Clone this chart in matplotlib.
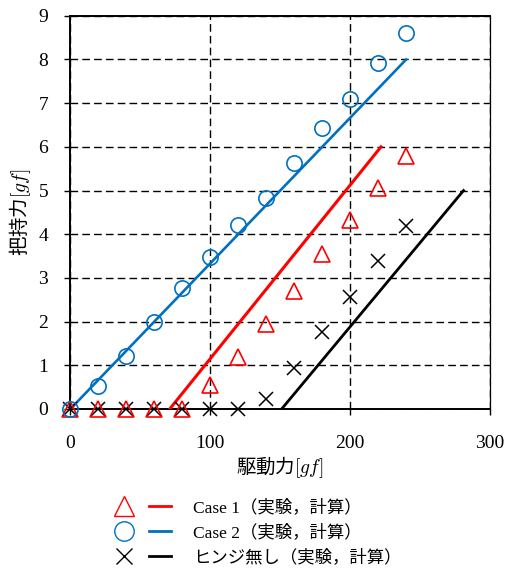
import numpy as np
import matplotlib
matplotlib.use('Agg')
import matplotlib.pyplot as plt
from matplotlib.lines import Line2D
from matplotlib.legend_handler import HandlerTuple

plt.rcParams['font.family'] = ['Liberation Serif', 'Noto Sans CJK JP', 'DejaVu Sans']
plt.rcParams['mathtext.fontset'] = 'cm'

# driving force [gf] for the experiments
x_exp = [0, 20, 40, 60, 80, 100, 120, 140, 160, 180, 200, 220, 240]
# grip force [gf], experiments
case1_exp = [0, 0, 0, 0, 0, 0.55, 1.2, 1.95, 2.71, 3.55, 4.32, 5.05, 5.8]
case2_exp = [0, 0.53, 1.21, 1.99, 2.77, 3.47, 4.2, 4.83, 5.63, 6.43, 7.1, 7.92, 8.61]
nohinge_exp = [0, 0, 0, 0, 0, 0, 0, 0.23, 0.93, 1.77, 2.57, 3.39, 4.19]
# calculated lines (end points)
case1_calc_x = [71, 222]
case1_calc_y = [0, 6]
case2_calc_x = [0, 240]
case2_calc_y = [0, 8]
nohinge_calc_x = [151, 281]
nohinge_calc_y = [0, 5]

labels = ['Case 1（実験，計算）', 'Case 2（実験，計算）', 'ヒンジ無し（実験，計算）']
red = '#ff0000'
blue = '#0070c0'
black = '#000000'

fig = plt.figure(figsize=(5.1, 5.74), dpi=100)
ax = fig.add_axes([0.138, 0.2875, 0.823, 0.685])

ax.plot(case2_calc_x, case2_calc_y, color=blue, lw=1.9, zorder=3)
ax.plot(case1_calc_x, case1_calc_y, color=red, lw=2.2, zorder=3)
ax.plot(nohinge_calc_x, nohinge_calc_y, color=black, lw=2.0, zorder=3)

ax.plot(x_exp, nohinge_exp, ls='none', marker='x', ms=10, mew=1.1,
        color=black, clip_on=False, zorder=4)
ax.plot(x_exp, case1_exp, ls='none', marker='^', ms=11, mew=1.2,
        mfc='none', mec=red, clip_on=False, zorder=4)
ax.plot(x_exp, case2_exp, ls='none', marker='o', ms=11, mew=1.2,
        mfc='none', mec=blue, clip_on=False, zorder=4)

ax.set_xlim(0, 300)
ax.set_ylim(0, 9)
ax.set_xticks([0, 100, 200, 300])
ax.set_yticks(range(0, 10))
ax.grid(True, color='black', ls=(0, (5.5, 3)), lw=1.0)
ax.set_axisbelow(True)
ax.tick_params(direction='out', length=4, width=1.0, labelsize=14, color='black')
ax.tick_params(axis='y', pad=12)
ax.tick_params(axis='x', pad=15)
for s in ['left', 'bottom', 'top']:
    ax.spines[s].set_linewidth(1.4)
ax.spines['right'].set_linewidth(0.9)

ax.set_xlabel(r'駆動力$[gf]$', fontsize=14, labelpad=1, family='Noto Sans CJK JP')
ax.set_ylabel(r'把持力$[gf]$', fontsize=14, labelpad=4, family='Noto Sans CJK JP')

handles = [
    (Line2D([], [], ls='none', marker='^', ms=14, mfc='none', mec=red, mew=1.0),
     Line2D([], [], color=red, lw=2.0)),
    (Line2D([], [], ls='none', marker='o', ms=14, mfc='none', mec=blue, mew=1.0),
     Line2D([], [], color=blue, lw=2.0)),
    (Line2D([], [], ls='none', marker='x', ms=11, mec=black, mew=1.0),
     Line2D([], [], color=black, lw=2.0)),
]
fig.legend(handles, labels, loc='upper left', bbox_to_anchor=(0.205, 0.145),
           frameon=False, fontsize=12.5, handlelength=3.3, handletextpad=1.3,
           labelspacing=0.45, borderpad=0,
           handler_map={tuple: HandlerTuple(ndivide=None, pad=0.8)})

fig.savefig('out.png', dpi=100)
